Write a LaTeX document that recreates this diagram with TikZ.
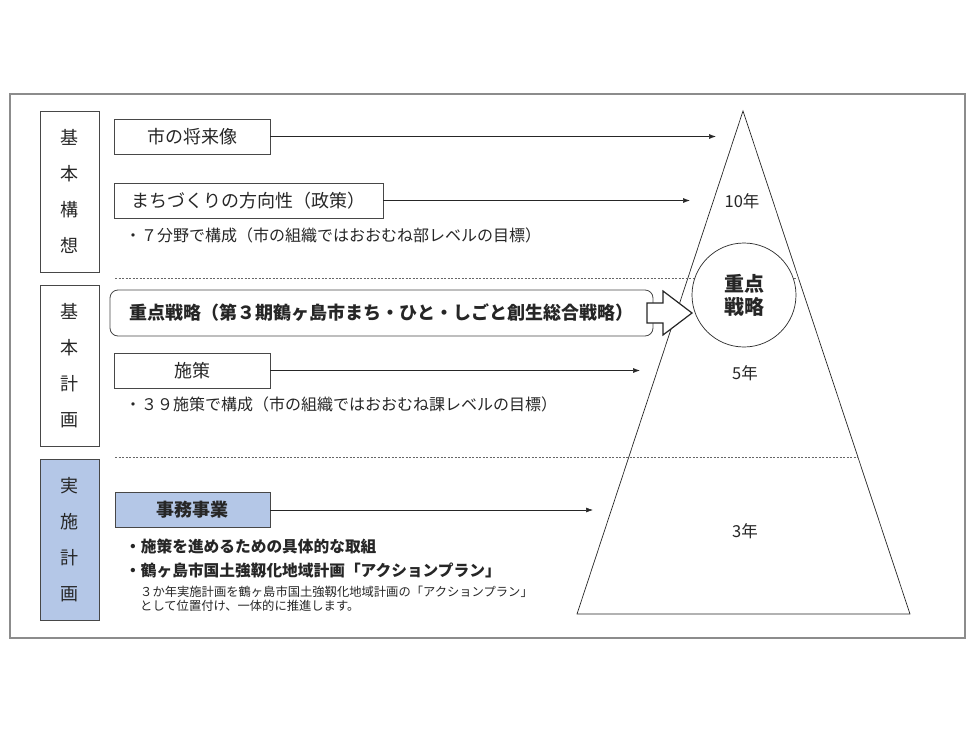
\documentclass[tikz,border=0pt]{standalone}
\usepackage{fontspec}
\setmainfont{Noto Sans CJK JP}
\usetikzlibrary{arrows.meta}
\definecolor{planblue}{HTML}{B4C7E7}
\definecolor{ink}{HTML}{262626}
\begin{document}
\begin{tikzpicture}[x=1pt,y=-1pt,
  every node/.style={text=ink},
  lbl/.style={draw=ink!85, line width=0.8pt, minimum width=59pt, minimum height=161pt, inner sep=0pt, align=center, font=\fontsize{18}{36}\selectfont},
  itembox/.style={draw=ink!85, line width=0.8pt, minimum height=35pt, inner sep=0pt, font=\fontsize{18}{20}\selectfont},
  arr/.style={-{Latex[length=7pt,width=5pt]}, line width=0.6pt, draw=ink},
  dline/.style={draw=ink!70, line width=0.6pt, dash pattern=on 2pt off 1.5pt},
  note/.style={anchor=west, inner sep=0pt, font=\fontsize{16}{18}\selectfont},
  bnote/.style={anchor=west, inner sep=0pt, font=\fontsize{15.7}{18}\selectfont\bfseries},
  small/.style={anchor=west, inner sep=0pt, align=left, font=\fontsize{12.3}{14}\selectfont},
  yr/.style={inner sep=0pt, font=\fontsize{16.5}{18}\selectfont}
]
\useasboundingbox (0,0) rectangle (975,731);
% outer frame
\draw[draw=gray!90, line width=1.5pt] (10,94) rectangle (965,638);

% pyramid
\coordinate (apex) at (743,111);
\coordinate (baseR) at (910,614);
\coordinate (baseL) at (577,614);
\draw[draw=ink, line width=0.7pt] (apex) -- (baseR) -- (baseL) -- cycle;

% dashed separators
\coordinate (d1a) at (115,278);
\coordinate (d1b) at (799,278);
\coordinate (d2a) at (115,457);
\coordinate (d2b) at (858,457);
\draw[dline] (d1a) -- (d1b);
\draw[dline] (d2a) -- (d2b);

% left labels
\node[lbl] (kousou) at (69.5,191.5) {基\\本\\構\\想};
\node[lbl] (keikaku) at (69.5,365.5) {基\\本\\計\\画};
\node[lbl, fill=planblue] (jisshi) at (69.5,540) {実\\施\\計\\画};

% boxes
\node[itembox, minimum width=156pt] (vision) at (192,136.5) {市の将来像};
\node[itembox, minimum width=269pt] (policy) at (248.5,200.5) {まちづくりの方向性（政策）};
\node[itembox, minimum width=156pt] (shisaku) at (192,370.5) {施策};
\node[itembox, minimum width=155pt, fill=planblue, font=\fontsize{18}{20}\selectfont\bfseries] (jimu) at (192.5,510) {事務事業};
\node[draw=ink!85, line width=0.8pt, rounded corners=8pt, minimum width=543pt, minimum height=46pt, inner sep=0pt, font=\fontsize{18}{20}\selectfont\bfseries] (strategy) at (381.5,313) {重点戦略（第３期鶴ヶ島市まち・ひと・しごと創生総合戦略）};

% notes
\node[note] (n1) at (125,235) {・７分野で構成（市の組織ではおおむね部レベルの目標）};
\node[note] (n2) at (125,404) {・３９施策で構成（市の組織ではおおむね課レベルの目標）};
\node[bnote] (n3) at (125,546) {・施策を進めるための具体的な取組};
\node[bnote] (n4) at (125,571) {・鶴ヶ島市国土強靱化地域計画「アクションプラン」};
\node[small] (n5) at (140,599) {３か年実施計画を鶴ヶ島市国土強靱化地域計画の「アクションプラン」\\として位置付け、一体的に推進します。};

% arrow ends
\coordinate (e1) at (716,136.5);
\coordinate (e2) at (690,200.5);
\coordinate (e3) at (640,370.5);
\coordinate (e4) at (593,510);
\draw[arr] (vision.east) -- (e1);
\draw[arr] (policy.east) -- (e2);
\draw[arr] (shisaku.east) -- (e3);
\draw[arr] (jimu.east) -- (e4);

% circle
\node[circle, draw=ink, line width=0.7pt, fill=white, minimum size=104pt, inner sep=0pt, align=center, font=\fontsize{20}{23}\selectfont\bfseries] (focus) at (744,295) {重点\\戦略};

% hollow block arrow
\coordinate (tip) at (692,313);
\draw[draw=ink, line width=1.2pt, fill=white, line join=miter]
  (647,303) -- (663,303) -- (663,291) -- (tip) -- (663,335) -- (663,323) -- (647,323) -- cycle;

% years
\node[yr] (y10) at (742,201) {10年};
\node[yr] (y5) at (745,373) {5年};
\node[yr] (y3) at (745,531) {3年};
\end{tikzpicture}
\end{document}
